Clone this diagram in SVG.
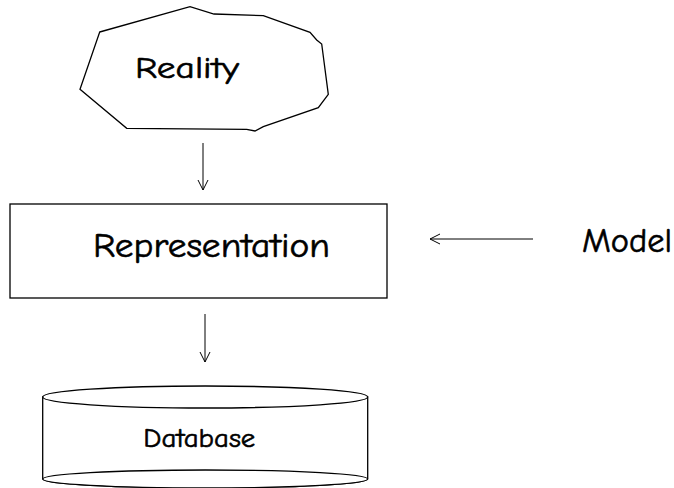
<svg xmlns="http://www.w3.org/2000/svg" width="674" height="488" viewBox="0 0 674 488">
  <style>
    .shape { fill: #ffffff; stroke: #000000; stroke-width: 1.3; }
    .edge { fill: none; stroke: #000000; stroke-width: 1; }
    .label { font-family: "Comic Sans MS", "Comic Neue", "DejaVu Sans", sans-serif; fill: #000000; stroke: #000000; stroke-width: 0.6; }
  </style>
  <defs>
    <marker id="vee" viewBox="0 0 12 12" refX="11" refY="6" markerWidth="12" markerHeight="12" markerUnits="userSpaceOnUse" orient="auto">
      <polyline points="1,1 11,6 1,11" fill="none" stroke="#000000" stroke-width="1"/>
    </marker>
  </defs>
  <rect width="674" height="488" fill="#ffffff"/>

  <g id="reality">
    <polygon class="shape" points="99.7,32 190,6.7 214,14 263.3,15.7 310,32.3 316.7,40 321.7,44 328.3,94.3 318.3,107.7 263.3,126.7 255,131 246.7,129.3 126.7,128.3 80,89.3"/>
    <text class="label" x="135" y="78.3" font-size="31" textLength="104" lengthAdjust="spacingAndGlyphs">Reality</text>
  </g>

  <g id="representation">
    <rect class="shape" x="10" y="204" width="377" height="94"/>
    <text class="label" x="93" y="257.3" font-size="34" textLength="237" lengthAdjust="spacingAndGlyphs">Representation</text>
  </g>

  <g id="model">
    <text class="label" x="582" y="251.7" font-size="35" textLength="90" lengthAdjust="spacingAndGlyphs">Model</text>
  </g>

  <g id="database">
    <path class="shape" d="M42.7,397 L42.7,479 A162.5,9 0 0 0 367.7,479 L367.7,397 Z"/>
    <ellipse class="shape" cx="205.2" cy="479" rx="162.5" ry="9"/>
    <ellipse class="shape" cx="205.2" cy="397" rx="162.5" ry="11"/>
    <text class="label" x="143.3" y="446.7" font-size="27" textLength="112" lengthAdjust="spacingAndGlyphs">Database</text>
  </g>

  <g id="connectors">
    <line class="edge" x1="203" y1="143" x2="203" y2="190" marker-end="url(#vee)"/>
    <line class="edge" x1="205" y1="314" x2="205" y2="362" marker-end="url(#vee)"/>
    <line class="edge" x1="533" y1="239" x2="430" y2="239" marker-end="url(#vee)"/>
  </g>
</svg>
